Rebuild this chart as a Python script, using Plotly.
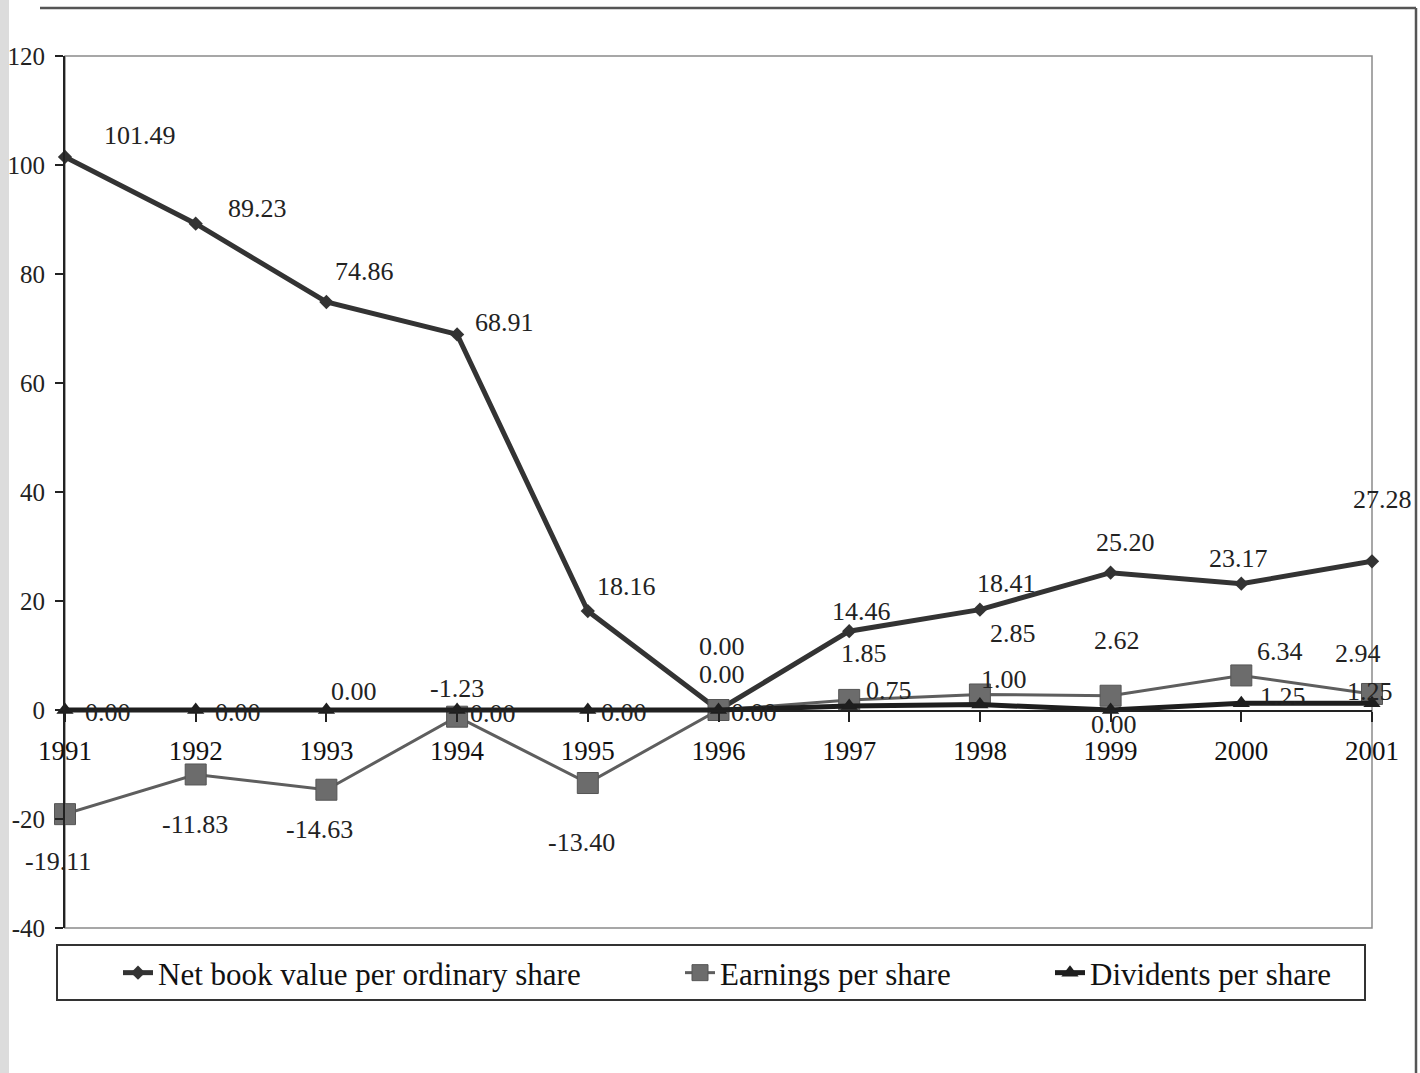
import plotly.graph_objects as go

# ---- data ----
years = [1991, 1992, 1993, 1994, 1995, 1996, 1997, 1998, 1999, 2000, 2001]
net_book_value = [101.49, 89.23, 74.86, 68.91, 18.16, 0.00, 14.46, 18.41, 25.20, 23.17, 27.28]
earnings = [-19.11, -11.83, -14.63, -1.23, -13.40, 0.00, 1.85, 2.85, 2.62, 6.34, 2.94]
dividends = [0.00, 0.00, 0.00, 0.00, 0.00, 0.00, 0.75, 1.00, 0.00, 1.25, 1.25]
y_ticks = [120, 100, 80, 60, 40, 20, 0, -20, -40]

# ---- label offsets in pixels (dx, dy up) ----
nbv_off = [(75, 21), (62, 15), (38, 31), (47, 12), (39, 25), (3, 64),
           (12, 20), (27, 26), (15, 30), (-3, 25), (10, 62)]
eps_off = [(-7, -47), (-1, -50), (-7, -40), (0, 28), (-6, -59), (3, 36),
           (15, 46), (33, 61), (6, 55), (39, 24), (-14, 40)]
dps_off = [(43, -2), (42, -2), (28, 19), (36, -3), (36, -2), (35, -2),
           (40, 15), (24, 25), (3, -14), (42, 7), (-2, 12)]

SERIF = "Liberation Serif"
INK = "#222222"

fig = go.Figure()

fig.add_trace(go.Scatter(
    x=years, y=net_book_value, mode="lines+markers",
    name="Net book value per ordinary share",
    line=dict(color="#333333", width=5),
    marker=dict(symbol="diamond", size=11, color="#333333"),
    cliponaxis=False, legend="legend",
))
fig.add_trace(go.Scatter(
    x=years, y=earnings, mode="lines+markers",
    name="Earnings per share",
    line=dict(color="#5e5e5e", width=3),
    marker=dict(symbol="square", size=21, color="#6c6c6c",
                line=dict(color="#555555", width=1)),
    cliponaxis=False, legend="legend2",
))
fig.add_trace(go.Scatter(
    x=years, y=dividends, mode="lines+markers",
    name="Dividents per share",
    line=dict(color="#1e1e1e", width=5),
    marker=dict(symbol="triangle-up", size=15, color="#1e1e1e"),
    cliponaxis=False, legend="legend3",
))

annotations = []
for series, offs in ((net_book_value, nbv_off), (earnings, eps_off), (dividends, dps_off)):
    for x, v, (dx, dy) in zip(years, series, offs):
        annotations.append(dict(
            x=x, y=v, xref="x", yref="y", text=f"{v:.2f}", showarrow=False,
            xshift=dx, yshift=dy, font=dict(family=SERIF, size=26, color=INK),
        ))

# plot frame, legend box and page edges (paper coordinates)
L, R, T, B = 65, 1372, 56, 928
W, H = R - L, B - T


def px(xp):
    return (xp - L) / W


def py(yp):
    return (B - yp) / H


shapes = [
    dict(type="rect", xref="paper", yref="paper", x0=0, x1=1, y0=0, y1=1,
         line=dict(color="#8a8a8a", width=1.5), layer="below"),
    dict(type="rect", xref="paper", yref="paper", x0=px(57), x1=px(1365),
         y0=py(1000), y1=py(945), line=dict(color="#333333", width=2)),
    dict(type="line", xref="paper", yref="paper", x0=px(40), x1=px(1416),
         y0=py(8), y1=py(8), line=dict(color="#555555", width=2.5)),
    dict(type="line", xref="paper", yref="paper", x0=px(1416), x1=px(1416),
         y0=py(8), y1=py(1073), line=dict(color="#555555", width=2.5)),
    dict(type="rect", xref="paper", yref="paper", x0=px(0), x1=px(9),
         y0=py(1073), y1=py(0), fillcolor="#dcdcdc", line=dict(width=0),
         layer="below"),
]

legend_common = dict(
    orientation="h", yanchor="middle", y=py(973), xanchor="left",
    bgcolor="rgba(0,0,0,0)", borderwidth=0,
    font=dict(family=SERIF, size=31, color="#111111"),
)

fig.update_layout(
    width=1420, height=1073,
    margin=dict(l=L, r=1420 - R, t=T, b=1073 - B, autoexpand=False),
    paper_bgcolor="white", plot_bgcolor="white",
    showlegend=True,
    legend=dict(x=px(118), **legend_common),
    legend2=dict(x=px(680), **legend_common),
    legend3=dict(x=px(1050), **legend_common),
    xaxis=dict(
        range=[1991, 2001], tickmode="array", tickvals=years,
        ticktext=[str(y) for y in years],
        anchor="free", position=py(711),
        showline=True, linecolor="#222222", linewidth=2,
        ticks="outside", ticklen=10, tickwidth=2, tickcolor="#222222",
        ticklabelstandoff=6,
        showgrid=False, zeroline=False,
        tickfont=dict(family=SERIF, size=27, color="#111111"),
    ),
    yaxis=dict(
        range=[-40, 120], tickmode="array", tickvals=y_ticks,
        ticktext=[str(v) for v in y_ticks],
        showline=True, linecolor="#222222", linewidth=2,
        ticks="outside", ticklen=8, tickwidth=2, tickcolor="#222222",
        ticklabelstandoff=5,
        showgrid=False, zeroline=False,
        tickfont=dict(family=SERIF, size=25, color=INK),
    ),
    annotations=annotations,
    shapes=shapes,
)

fig.write_html("out.html")
